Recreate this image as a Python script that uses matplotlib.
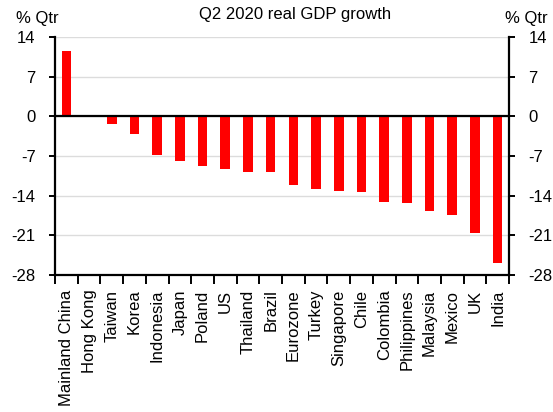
import matplotlib.pyplot as plt
import numpy as np

plt.rcParams['font.family'] = ['Liberation Sans', 'DejaVu Sans']

# Q2 2020 real GDP growth, % q/q
countries = ['Mainland China', 'Hong Kong', 'Taiwan', 'Korea', 'Indonesia', 'Japan',
             'Poland', 'US', 'Thailand', 'Brazil', 'Eurozone', 'Turkey', 'Singapore',
             'Chile', 'Colombia', 'Philippines', 'Malaysia', 'Mexico', 'UK', 'India']
growth = [11.5, -0.1, -1.4, -3.2, -6.9, -7.9, -8.8, -9.3, -9.8, -9.8, -12.1, -12.8,
          -13.2, -13.4, -15.1, -15.3, -16.7, -17.4, -20.6, -25.8]
yticks = [14, 7, 0, -7, -14, -21, -28]

fig = plt.figure(figsize=(5.53, 4.12), dpi=100)
ax = fig.add_axes([55/553, 1 - 275/412, 454/553, 238/412])

x = np.arange(len(countries))
ax.bar(x, growth, width=0.42, color='#ff0000', zorder=3)

ax.set_xlim(-0.5, len(countries) - 0.5)
ax.set_ylim(-28, 14)
ax.set_yticks(yticks)
ax.set_yticklabels([str(v) for v in yticks])
ax.yaxis.grid(True, color='#dcdcdc', linewidth=1.0, zorder=0)
ax.axhline(0, color='black', linewidth=1.6, zorder=4)

# category labels at centers, tick marks on the boundaries
ax.set_xticks(x)
ax.set_xticklabels(countries, rotation=90, va='top', ha='center')
ax.set_xticks(np.arange(-0.5, len(countries)), minor=True)
ax.tick_params(axis='x', which='major', length=0, pad=10.5, labelsize=12)
ax.tick_params(axis='x', which='minor', length=6.5, width=1.4, direction='out')
ax.tick_params(axis='y', length=4.5, width=1.4, direction='out', labelsize=12,
               right=True, labelright=True, pad=9.5)

for side in ['left', 'right', 'bottom']:
    ax.spines[side].set_linewidth(1.6)
    ax.spines[side].set_color('black')
ax.spines['top'].set_visible(False)

fig.text(295/553, 1 - 15/412, 'Q2 2020 real GDP growth', ha='center', va='center', fontsize=12)
fig.text(16/553, 1 - 18/412, '% Qtr', ha='left', va='center', fontsize=12)
fig.text(548/553, 1 - 18/412, '% Qtr', ha='right', va='center', fontsize=12)

fig.savefig('out.png', dpi=100)
